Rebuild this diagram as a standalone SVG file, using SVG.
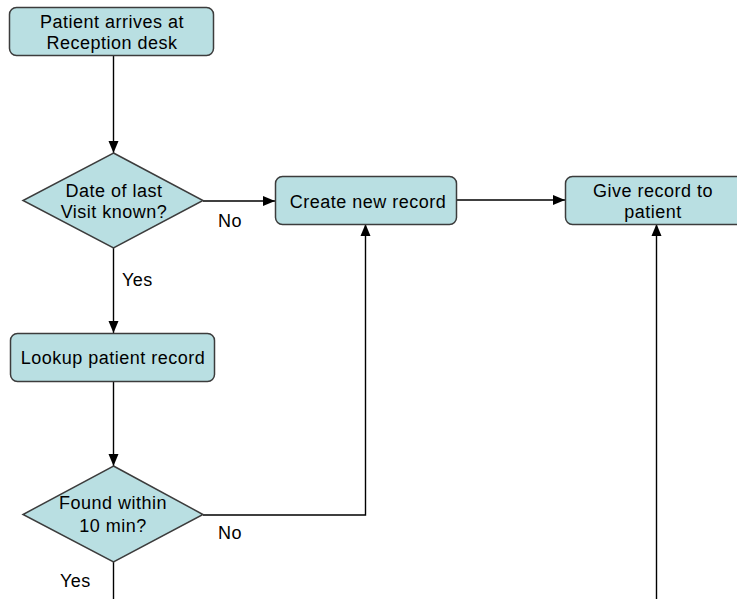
<svg xmlns="http://www.w3.org/2000/svg" width="737" height="599" viewBox="0 0 737 599">
<defs>
<marker id="arr" viewBox="0 0 12 12" refX="12" refY="6" markerWidth="12" markerHeight="12" markerUnits="userSpaceOnUse" orient="auto">
<path d="M0,1 L12,6 L0,11 Z" fill="#000"/>
</marker>
<style>
.box{fill:#b9dfe2;stroke:#3c3c3c;stroke-width:1.5}
.t{font-family:"Liberation Sans",Arial,sans-serif;font-size:18px;fill:#000;text-anchor:middle;letter-spacing:0.5px}
.lbl{font-family:"Liberation Sans",Arial,sans-serif;font-size:18px;fill:#000;letter-spacing:0.5px}
.c{fill:none;stroke:#000;stroke-width:1.4}
</style>
</defs>
<rect width="737" height="599" fill="#fff"/>
<g id="connectors">
<line class="c" x1="113.5" y1="56" x2="113.5" y2="153" marker-end="url(#arr)"/>
<line class="c" x1="203" y1="201" x2="275" y2="201" marker-end="url(#arr)"/>
<line class="c" x1="113.5" y1="248" x2="113.5" y2="333" marker-end="url(#arr)"/>
<line class="c" x1="113.5" y1="382" x2="113.5" y2="466" marker-end="url(#arr)"/>
<polyline class="c" points="203,515 365.5,515 365.5,224" marker-end="url(#arr)"/>
<line class="c" x1="457" y1="200" x2="565" y2="200" marker-end="url(#arr)"/>
<line class="c" x1="656.5" y1="599" x2="656.5" y2="224" marker-end="url(#arr)"/>
<line class="c" x1="113.5" y1="562" x2="113.5" y2="599"/>
<text class="lbl" x="218" y="227">No</text>
<text class="lbl" x="122" y="286">Yes</text>
<text class="lbl" x="218" y="539">No</text>
<text class="lbl" x="60" y="587">Yes</text>
</g>
<g id="start">
<rect class="box" x="9.5" y="7.5" width="204" height="48" rx="7"/>
<text class="t" x="112" y="28">Patient arrives at</text>
<text class="t" x="112" y="49">Reception desk</text>
</g>
<g id="decision1">
<polygon class="box" points="113.5,153 203,200.5 113.5,248 23,200.5"/>
<text class="t" x="114" y="197">Date of last</text>
<text class="t" x="114" y="218">Visit known?</text>
</g>
<g id="create">
<rect class="box" x="275.5" y="176.5" width="181" height="48" rx="7"/>
<text class="t" x="368" y="208">Create new record</text>
</g>
<g id="give">
<rect class="box" x="565.5" y="176.5" width="180" height="48" rx="7"/>
<text class="t" x="653" y="197">Give record to</text>
<text class="t" x="653" y="218">patient</text>
</g>
<g id="lookup">
<rect class="box" x="10.5" y="333.5" width="204" height="48" rx="7"/>
<text class="t" x="113" y="364">Lookup patient record</text>
</g>
<g id="decision2">
<polygon class="box" points="113.5,466 203,514.5 113.5,562 23,514.5"/>
<text class="t" x="113" y="509">Found within</text>
<text class="t" x="113" y="532">10 min?</text>
</g>
</svg>
